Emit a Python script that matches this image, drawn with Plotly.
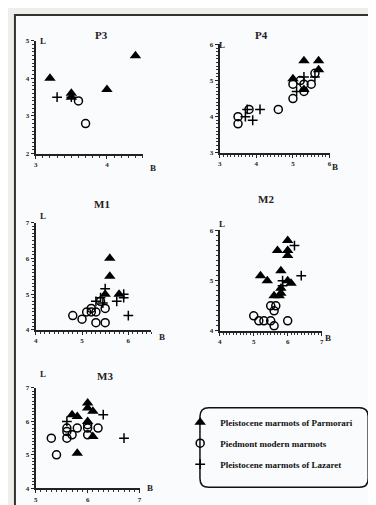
import plotly.graph_objects as go

W, H = 376, 505

# ---- data (B = x, L = y) ----
p3_tri_B = [3.2, 3.5, 3.5, 4.0, 4.4]
p3_tri_L = [4.0, 3.6, 3.5, 3.7, 4.6]
p3_cir_B = [3.6, 3.7]
p3_cir_L = [3.4, 2.8]
p3_plus_B = [3.3, 3.5]
p3_plus_L = [3.5, 3.5]

p4_tri_B = [5.0, 5.3, 5.7, 5.7, 5.3]
p4_tri_L = [5.05, 5.55, 5.55, 5.3, 4.75]
p4_cir_B = [3.5, 3.5, 3.8, 4.6, 5.0, 5.0, 5.3, 5.3, 5.5, 5.6, 5.2]
p4_cir_L = [4.0, 3.8, 4.2, 4.2, 4.5, 4.9, 4.9, 4.7, 4.9, 5.2, 5.0]
p4_plus_B = [3.7, 3.9, 4.1, 5.1, 5.3, 3.75, 5.6]
p4_plus_L = [4.0, 3.9, 4.2, 4.7, 5.1, 4.2, 5.1]

m1_tri_B = [5.6, 5.6, 5.5, 5.8]
m1_tri_L = [6.0, 5.5, 5.0, 5.0]
m1_cir_B = [4.8, 5.0, 5.1, 5.2, 5.3, 5.3, 5.5, 5.5, 5.4, 5.2]
m1_cir_L = [4.4, 4.3, 4.5, 4.6, 4.5, 4.2, 4.2, 4.6, 4.8, 4.5]
m1_plus_B = [5.3, 5.4, 5.5, 5.9, 5.9, 5.75, 6.0, 5.45]
m1_plus_L = [4.8, 4.9, 5.15, 5.0, 4.9, 4.8, 4.4, 4.75]

m2_tri_B = [6.0, 5.7, 6.0, 6.0, 5.2, 5.4, 5.8, 6.0, 6.1, 5.8, 5.8, 5.6, 5.75]
m2_tri_L = [5.8, 5.6, 5.6, 5.5, 5.1, 5.0, 5.2, 5.0, 4.95, 4.85, 4.75, 4.7, 4.7]
m2_cir_B = [5.0, 5.15, 5.3, 5.5, 5.5, 5.65, 5.6, 5.6, 6.0]
m2_cir_L = [4.3, 4.2, 4.2, 4.2, 4.5, 4.5, 4.4, 4.1, 4.2]
m2_plus_B = [6.2, 6.4, 5.85, 5.85]
m2_plus_L = [5.7, 5.1, 5.0, 4.9]

m3_tri_B = [6.0, 6.0, 6.1, 5.7, 5.8, 6.0, 6.1, 5.8]
m3_tri_L = [6.55, 6.4, 6.3, 6.2, 6.15, 6.0, 5.55, 5.05]
m3_cir_B = [5.3, 5.4, 5.6, 5.6, 5.6, 5.7, 5.8, 6.0, 6.0, 6.2, 6.0]
m3_cir_L = [5.5, 5.0, 5.8, 5.7, 5.5, 5.6, 5.8, 5.8, 5.6, 5.8, 5.9]
m3_plus_B = [6.3, 6.7, 5.6]
m3_plus_L = [6.2, 5.5, 6.0]

panels = [
    # name, tri, cir, plus, xrange, yrange, xticks, yticks, pixel box (x0, x1, ytop, ybottom)
    ("P3", (p3_tri_B, p3_tri_L), (p3_cir_B, p3_cir_L), (p3_plus_B, p3_plus_L),
     [3, 4.5], [2, 5], [3, 4], [2, 3, 4, 5], (26, 134, 29, 144)),
    ("P4", (p4_tri_B, p4_tri_L), (p4_cir_B, p4_cir_L), (p4_plus_B, p4_plus_L),
     [3, 6], [3, 6], [3, 4, 5, 6], [3, 4, 5, 6], (212, 323, 33, 143)),
    ("M1", (m1_tri_B, m1_tri_L), (m1_cir_B, m1_cir_L), (m1_plus_B, m1_plus_L),
     [4, 6.5], [4, 7], [4, 5, 6], [4, 5, 6, 7], (26, 143, 214, 323)),
    ("M2", (m2_tri_B, m2_tri_L), (m2_cir_B, m2_cir_L), (m2_plus_B, m2_plus_L),
     [4, 7], [4, 6], [4, 5, 6, 7], [4, 5, 6], (212, 315, 222, 324)),
    ("M3", (m3_tri_B, m3_tri_L), (m3_cir_B, m3_cir_L), (m3_plus_B, m3_plus_L),
     [5, 7], [4, 7], [5, 6, 7], [4, 5, 6, 7], (26, 131, 382, 484)),
]
title_pos = [(84, 15), (263, 15), (83, 195), (269, 190), (86, 378)]

legend_names = ["<b>Pleistocene marmots of Parmorari</b>",
                "<b>Piedmont modern marmots</b>",
                "<b>Pleistocene marmots of Lazaret</b>"]

FONT = "Liberation Serif"
fig = go.Figure()
layout = {}
annotations = []

for i, (name, tri, cir, plus, xr, yr, xt, yt, box) in enumerate(panels):
    k = "" if i == 0 else str(i + 1)
    xa, ya = "x" + k, "y" + k
    x0, x1, yt0, yb0 = box
    first = i == 0
    fig.add_trace(go.Scatter(x=tri[0], y=tri[1], mode="markers", xaxis=xa, yaxis=ya,
                             name=legend_names[0], legendgroup="a", showlegend=first,
                             marker=dict(symbol="triangle-up", size=10, color="black")))
    fig.add_trace(go.Scatter(x=cir[0], y=cir[1], mode="markers", xaxis=xa, yaxis=ya,
                             name=legend_names[1], legendgroup="b", showlegend=first,
                             marker=dict(symbol="circle-open", size=8, color="black",
                                         line=dict(width=1.5, color="black"))))
    fig.add_trace(go.Scatter(x=plus[0], y=plus[1], mode="markers", xaxis=xa, yaxis=ya,
                             name=legend_names[2], legendgroup="c", showlegend=first,
                             marker=dict(symbol="cross-thin-open", size=7, color="black",
                                         line=dict(width=1.5, color="black"))))
    axcommon = dict(showgrid=False, zeroline=False, showline=True, linecolor="#222",
                    linewidth=2, ticks="outside", ticklen=3, tickwidth=1.2, tickcolor="#222",
                    tickfont=dict(family=FONT, size=7, color="#222", weight="bold"),
                    minor=dict(dtick=0.1, ticks="outside", ticklen=2, tickcolor="#333", tickwidth=1))
    layout["xaxis" + k] = dict(axcommon, domain=[x0 / W, x1 / W], range=xr, tickvals=xt,
                               anchor=ya, fixedrange=True)
    layout["yaxis" + k] = dict(axcommon, domain=[1 - yb0 / H, 1 - yt0 / H], range=yr,
                               tickvals=yt, anchor=xa, fixedrange=True)
    tx, ty = title_pos[i]
    annotations.append(dict(text="<b>%s</b>" % name, x=tx / W, y=1 - ty / H, xref="paper",
                            yref="paper", showarrow=False,
                            font=dict(family=FONT, size=11, color="#222")))
    annotations.append(dict(text="<b>L</b>", x=(x0 + 2) / W, y=1 - (yt0 - 7) / H,
                            xref="paper", yref="paper", showarrow=False,
                            font=dict(family=FONT, size=9, color="#222")))
    annotations.append(dict(text="<b>B</b>", x=(x1 + 11) / W, y=1 - (yb0 + 7) / H,
                            xref="paper", yref="paper", showarrow=False,
                            font=dict(family=FONT, size=9, color="#222")))

shapes = [
    dict(type="rect", xref="paper", yref="paper", x0=5 / W, x1=369 / W,
         y0=1 - 502 / H, y1=1 - 3 / H, line=dict(color="#333", width=2),
         fillcolor="#fafbfd", layer="below"),
]
# rounded legend box
bx0, bx1, by0, by1, r = 192, 362, 402, 483, 9
def px(x):
    return x / W
def py(y):
    return 1 - y / H
path = ("M {a},{b} L {c},{b} Q {d},{b} {d},{e} L {d},{f} Q {d},{g} {c},{g} "
        "L {a},{g} Q {h},{g} {h},{f} L {h},{e} Q {h},{b} {a},{b} Z").format(
    a=px(bx0 + r), b=py(by0), c=px(bx1 - r), d=px(bx1), e=py(by0 + r),
    f=py(by1 - r), g=py(by1), h=px(bx0))
shapes.append(dict(type="path", xref="paper", yref="paper", path=path,
                   line=dict(color="#111", width=1.5), fillcolor="rgba(0,0,0,0)"))

fig.update_layout(
    width=W, height=H, margin=dict(l=0, r=0, t=0, b=0),
    paper_bgcolor="#eeeeea", plot_bgcolor="rgba(0,0,0,0)",
    showlegend=True,
    legend=dict(x=172 / W, y=1 - 402 / H, xanchor="left", yanchor="top",
                bgcolor="rgba(0,0,0,0)", borderwidth=0, itemwidth=30,
                font=dict(family=FONT, size=9, color="#111"), tracegroupgap=2),
    shapes=shapes, annotations=annotations, **layout)

fig.write_html("out.html")
